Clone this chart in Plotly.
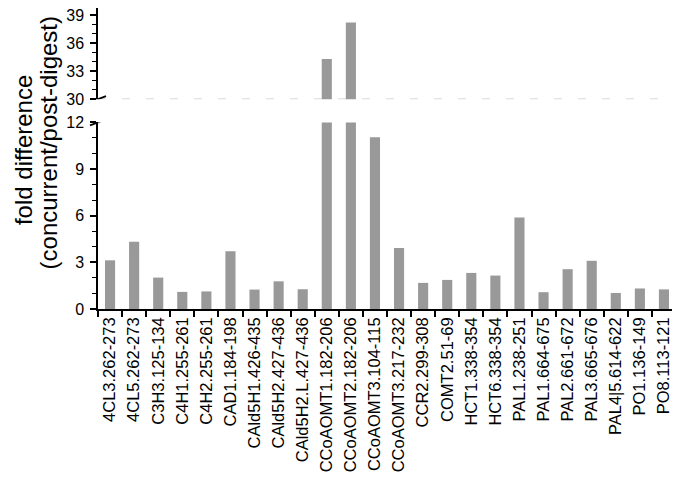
import plotly.graph_objects as go

# Peptide / gene labels along the x axis
peptides = [
    "4CL3.262-273", "4CL5.262-273", "C3H3.125-134", "C4H1.255-261",
    "C4H2.255-261", "CAD1.184-198", "CAld5H1.426-435", "CAld5H2.427-436",
    "CAld5H2.L.427-436", "CCoAOMT1.182-206", "CCoAOMT2.182-206",
    "CCoAOMT3.104-115", "CCoAOMT3.217-232", "CCR2.299-308", "COMT2.51-69",
    "HCT1.338-354", "HCT6.338-354", "PAL1.238-251", "PAL1.664-675",
    "PAL2.661-672", "PAL3.665-676", "PAL4|5.614-622", "PO1.136-149",
    "PO8.113-121",
]

# fold difference (concurrent / post-digest)
fold_diff = [
    3.13, 4.33, 2.02, 1.10,
    1.13, 3.72, 1.25, 1.78,
    1.27, 34.3, 38.2,
    11.05, 3.92, 1.68, 1.87,
    2.32, 2.15, 5.88, 1.08,
    2.56, 3.10, 1.03, 1.32,
    1.26,
]

# broken axis: lower and upper y ranges
lower_range = [0, 12]
upper_range = [30, 39.75]
lower_ticks = [0, 3, 6, 9, 12]
upper_ticks = [30, 33, 36, 39]

BAR_COLOR = "#999999"
FONT = "Liberation Sans, Arial, sans-serif"

fig = go.Figure()

for yax, xax in (("y", "x"), ("y2", "x2")):
    fig.add_trace(go.Bar(
        x=peptides, y=fold_diff,
        xaxis=xax, yaxis=yax,
        marker=dict(color=BAR_COLOR, line=dict(width=0)),
        showlegend=False,
        hoverinfo="x+y",
    ))

axis_common = dict(
    showline=True, linecolor="black", linewidth=1.5,
    ticks="outside", ticklen=6, tickwidth=1.5, tickcolor="black",
    showgrid=False, zeroline=False,
    tickfont=dict(family=FONT, size=16, color="black"),
)
minor_ticks = dict(dtick=1, ticks="outside", ticklen=4, tickcolor="black", tickwidth=1.2)

# page body has an 8px margin, so the figure is 8px smaller each way
fig.update_layout(
    width=672, height=479,
    plot_bgcolor="rgba(0,0,0,0)", paper_bgcolor="white",
    margin=dict(l=90, r=4, t=0, b=178),
    bargap=0.58,
    font=dict(family=FONT, color="black"),
    xaxis=dict(
        axis_common, anchor="y", domain=[0, 1],
        range=[-0.5, len(peptides) - 0.5],
        tickson="boundaries", tickangle=-90, automargin=False,
        tickfont=dict(family=FONT, size=16.5, color="black"),
    ),
    xaxis2=dict(
        anchor="y2", matches="x", domain=[0, 1], visible=False,
    ),
    yaxis=dict(
        axis_common, domain=[0, 0.620], range=lower_range,
        tickvals=lower_ticks, ticklabelstandoff=3, automargin=False,
        minor=minor_ticks,
    ),
    yaxis2=dict(
        axis_common, domain=[0.697, 1], range=upper_range,
        tickvals=upper_ticks, ticklabelstandoff=3, automargin=False,
        ticklabeloverflow="allow",
        minor=minor_ticks,
    ),
)

# dashed reference line at the break value in the upper panel
fig.add_shape(
    type="line", xref="paper", yref="y2",
    x0=0, x1=1, y0=upper_range[0], y1=upper_range[0],
    line=dict(color="#c8c8c8", width=1.2, dash="8px,16px"),
    layer="below",
)

# axis-break marks
for yref, yv in (("y", lower_range[1]), ("y2", upper_range[0])):
    fig.add_shape(
        type="line", xref="paper", yref=yref,
        xsizemode="pixel", ysizemode="pixel",
        xanchor=0, yanchor=yv,
        x0=-8, x1=8, y0=-3, y1=3,
        line=dict(color="black", width=1.8),
    )

# two-line y-axis title
fig.add_annotation(
    text="fold difference", textangle=-90,
    xref="paper", yref="paper", x=-0.1298, y=0.528,
    xanchor="center", yanchor="middle",
    showarrow=False, font=dict(family=FONT, size=24, color="black"),
)
fig.add_annotation(
    text="(concurrent/post-digest)", textangle=-90,
    xref="paper", yref="paper", x=-0.0865, y=0.55,
    xanchor="center", yanchor="middle",
    showarrow=False, font=dict(family=FONT, size=24, color="black"),
)

fig.write_html("out.html")
